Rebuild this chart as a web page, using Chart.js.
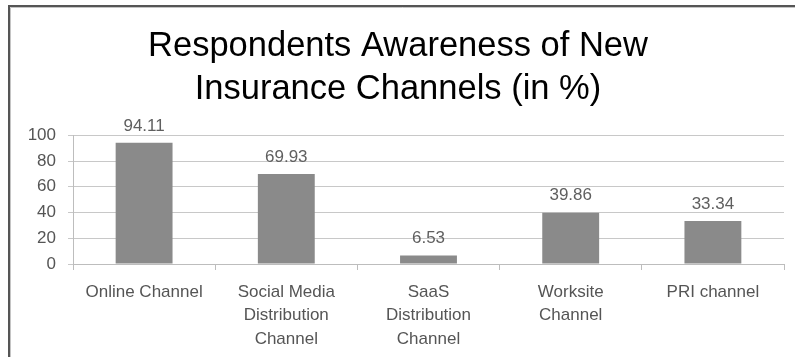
<!DOCTYPE html>
<html>
<head>
<meta charset="utf-8">
<script src="https://cdn.jsdelivr.net/npm/chart.js@4/dist/chart.umd.min.js"></script>
<style>
  html, body { margin: 0; padding: 0; background: #ffffff; }
  #wrap { width: 795px; height: 357px; position: relative; }
</style>
</head>
<body>
<div id="wrap"><canvas id="c" width="795" height="357"></canvas></div>
<script>
// Awareness of new insurance channels among respondents (percent)
const categories = [
  ['Online Channel'],
  ['Social Media', 'Distribution', 'Channel'],
  ['SaaS', 'Distribution', 'Channel'],
  ['Worksite', 'Channel'],
  ['PRI channel']
];
const awareness = [94.11, 69.93, 6.53, 39.86, 33.34];
const yTicks = [0, 20, 40, 60, 80, 100];
const titleLines = ['Respondents Awareness of New', 'Insurance Channels (in %)'];

const FONT = "'Liberation Sans', Arial, Helvetica, sans-serif";

// Frame around the chart (left and top edges)
const framePlugin = {
  id: 'frame',
  afterDraw(chart) {
    const ctx = chart.ctx;
    ctx.save();
    ctx.strokeStyle = '#555555';
    ctx.lineWidth = 2;
    ctx.beginPath();
    ctx.moveTo(9, 357);
    ctx.lineTo(9, 6);
    ctx.lineTo(795, 6);
    ctx.stroke();
    ctx.strokeStyle = '#c4c4c4';
    ctx.lineWidth = 1;
    ctx.beginPath();
    ctx.moveTo(10.5, 357);
    ctx.lineTo(10.5, 7.5);
    ctx.lineTo(795, 7.5);
    ctx.stroke();
    ctx.restore();
  }
};

// Value labels above each bar
const valueLabels = {
  id: 'valueLabels',
  afterDatasetsDraw(chart) {
    const ctx = chart.ctx;
    const meta = chart.getDatasetMeta(0);
    ctx.save();
    ctx.font = '17px ' + FONT;
    ctx.fillStyle = '#5f5f5f';
    ctx.textAlign = 'center';
    ctx.textBaseline = 'middle';
    meta.data.forEach((bar, i) => {
      ctx.fillText(awareness[i].toFixed(2), bar.x, bar.y - 17);
    });
    ctx.restore();
  }
};

new Chart(document.getElementById('c'), {
  type: 'bar',
  data: {
    labels: categories,
    datasets: [{
      data: awareness,
      backgroundColor: '#8a8a8a',
      borderWidth: 0,
      categoryPercentage: 0.8,
      barPercentage: 0.5
    }]
  },
  plugins: [framePlugin, valueLabels],
  options: {
    responsive: false,
    animation: false,
    devicePixelRatio: 1,
    layout: { padding: { left: 12, right: 11, top: 0, bottom: 0 } },
    plugins: {
      legend: { display: false },
      tooltip: { enabled: false },
      title: {
        display: true,
        text: titleLines,
        color: '#000000',
        font: { family: FONT, size: 34.5, weight: 'normal', lineHeight: 1.25 },
        padding: { top: 25, bottom: 24 }
      }
    },
    scales: {
      x: {
        grid: {
          display: true,
          drawOnChartArea: false,
          offset: true,
          color: '#bdbdbd',
          tickLength: 6
        },
        border: { display: true, color: '#bdbdbd' },
        ticks: {
          color: '#555555',
          font: { family: FONT, size: 17, lineHeight: 1.4 },
          padding: 10,
          maxRotation: 0,
          autoSkip: false
        },
        afterFit(scale) { scale.height = 93; }
      },
      y: {
        min: 0,
        max: 100,
        afterBuildTicks(scale) { scale.ticks = yTicks.map(v => ({ value: v })); },
        grid: {
          color: '#c8c8c8',
          tickLength: 5
        },
        border: { display: true, color: '#bdbdbd' },
        ticks: {
          color: '#555555',
          font: { family: FONT, size: 17 },
          padding: 12
        },
        afterFit(scale) { scale.width = 61; }
      }
    }
  }
});
</script>
</body>
</html>
